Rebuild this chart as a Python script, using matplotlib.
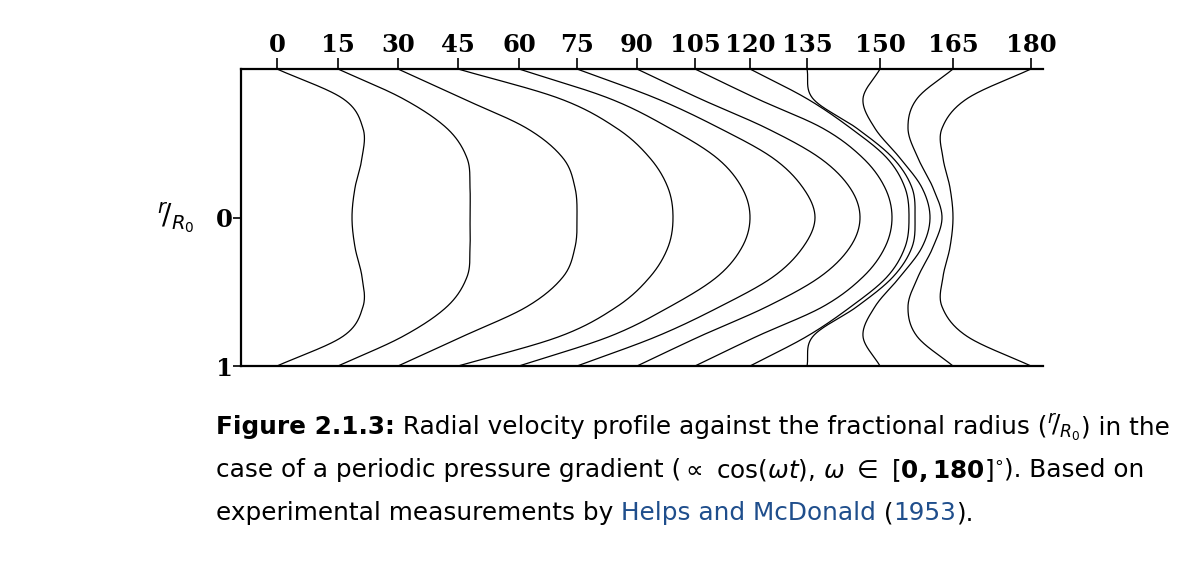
import numpy as np
import matplotlib
matplotlib.use("Agg")
import matplotlib.pyplot as plt

# phase angles (degrees) and profile positions (horizontal position, arbitrary units)
phases = [0, 15, 30, 45, 60, 75, 90, 105, 120, 135, 150, 165, 180]
# fractional radius samples from wall (1) to centre (0)
r_samples = [1.0, 0.8, 0.6, 0.4, 0.2, 0.0]
profiles = {
    0:   [36, 102, 122, 121, 114, 111],
    15:  [97, 162, 206, 226, 229, 229],
    30:  [157, 222, 286, 322, 334, 336],
    45:  [217, 319, 376, 409, 427, 432],
    60:  [278, 369, 429, 476, 501, 509],
    75:  [336, 416, 479, 532, 562, 574],
    90:  [396, 459, 526, 579, 609, 619],
    105: [454, 516, 582, 622, 644, 651],
    120: [509, 566, 610, 646, 664, 668],
    135: [566, 572, 616, 652, 671, 674],
    150: [639, 622, 634, 659, 681, 689],
    165: [712, 676, 667, 677, 692, 701],
    180: [790, 726, 701, 702, 709, 712],
}
tick_labels = [str(p) for p in phases]
xmax = 802


def catmull(px, py, n=40):
    px = np.asarray(px, float); py = np.asarray(py, float)
    P = np.column_stack([px, py])
    P = np.vstack([2 * P[0] - P[1], P, 2 * P[-1] - P[-2]])
    out = []
    t = np.linspace(0, 1, n, endpoint=False)[:, None]
    for i in range(1, len(P) - 2):
        p0, p1, p2, p3 = P[i - 1], P[i], P[i + 1], P[i + 2]
        seg = 0.5 * ((2 * p1) + (-p0 + p2) * t + (2 * p0 - 5 * p1 + 4 * p2 - p3) * t ** 2
                     + (-p0 + 3 * p1 - 3 * p2 + p3) * t ** 3)
        out.append(seg)
    out.append(P[-2][None, :])
    A = np.vstack(out)
    return A[:, 0], A[:, 1]


fig = plt.figure(figsize=(12.02, 5.64), dpi=100)
ax = fig.add_axes([241 / 1202, 1 - 366 / 564, 802 / 1202, 297 / 564])

for p in phases:
    half = profiles[p]
    xs = list(half) + list(half[-2::-1])
    ys = [-r for r in r_samples] + list(r_samples[-2::-1])
    cx, cy = catmull(xs, ys)
    ax.plot(cx, cy, color="black", lw=0.9)

ax.set_xlim(0, xmax)
ax.set_ylim(1, -1)
for s in ["top", "bottom", "left"]:
    ax.spines[s].set_linewidth(1.6)
ax.spines["right"].set_visible(False)
ax.xaxis.tick_top()
ax.set_xticks([profiles[p][0] for p in phases])
ax.set_xticklabels(tick_labels, family="DejaVu Serif", weight="bold", fontsize=17.5)
ax.tick_params(axis="x", direction="out", length=8, width=1.2, pad=1)
ax.set_yticks([0, 1])
ax.set_yticklabels(["0", "1"], family="DejaVu Serif", weight="bold", fontsize=17.5)
ax.tick_params(axis="y", direction="out", length=6, width=1.2, pad=0)
ax.text(-0.058, 0.5, r"$^{r}\!/_{R_0}$", transform=ax.transAxes, fontsize=20,
        ha="right", va="center")

# caption
fig.canvas.draw()
renderer = fig.canvas.get_renderer()
blue = "#1f4e8c"
lines = [
    [("Figure 2.1.3:", "bold", "black"), (" Radial velocity profile against the fractional radius (", "normal", "black"),
     (r"$^{r}\!/_{R_0}$", "normal", "black"), (") in the", "normal", "black")],
    [("case of a periodic pressure gradient (", "normal", "black"),
     (r"$\propto$ cos($\omega t$), $\omega\ \in\ [\mathbf{0,180}]^{\circ}$", "normal", "black"),
     ("). Based on", "normal", "black")],
    [("experimental measurements by ", "normal", "black"), ("Helps and McDonald", "normal", blue),
     (" (", "normal", "black"), ("1953", "normal", blue), (").", "normal", "black")],
]
ys_px = [427, 470, 513]
fs = 17.8
for segs, ypx in zip(lines, ys_px):
    x = 216
    for txt, w, c in segs:
        t = fig.text(x / 1202, 1 - ypx / 564, txt, fontsize=fs, weight=w, color=c,
                     family="DejaVu Sans", va="center", ha="left")
        bb = t.get_window_extent(renderer)
        x += bb.width

fig.savefig("out.png", dpi=100)
